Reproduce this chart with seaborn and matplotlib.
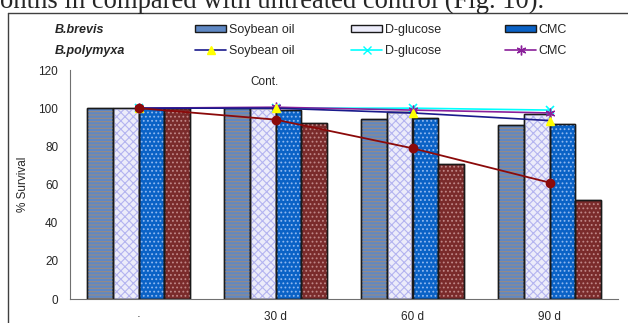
import numpy as np
import pandas as pd
import matplotlib
matplotlib.use("Agg")
import matplotlib.pyplot as plt
import seaborn as sns
from matplotlib.patches import Patch
from matplotlib.lines import Line2D

sns.set_style("white")
plt.rcParams['font.family'] = ['Liberation Sans', 'DejaVu Sans']
plt.rcParams['hatch.linewidth'] = 0.8

# ---- data ----
days = ["·", "30 d", "60 d", "90 d"]
series = ["Soybean oil", "D-glucose", "CMC", "Cont."]
brevis_soy = [100, 100, 94.5, 91]
brevis_glu = [100, 100, 98, 97]
brevis_cmc = [100, 99, 95, 91.5]
brevis_cont = [100, 92, 71, 52]

polymyxa_soy = [100, 100, 97.5, 93.5]
polymyxa_glu = [100, 100, 100, 99]
polymyxa_cmc = [100, 100.5, 99, 97.5]
polymyxa_cont = [100, 94, 79, 61]

bar_colors = ["#5F88C4", "#ECECFA", "#0A62C6", "#7A2B2B"]
hatch_colors = ["#9A8A80", "#B4B4F0", "#8FB8F0", "#C08888"]
hatches = ["-----", "xxxx", "....", "...."]

df = pd.DataFrame({
    "day": days * 4,
    "series": np.repeat(series, len(days)),
    "value": brevis_soy + brevis_glu + brevis_cmc + brevis_cont,
})

fig = plt.figure(figsize=(6.28, 3.23), dpi=100)
ax = fig.add_axes([70 / 628, 1 - 299 / 323, 548 / 628, 229 / 323])

pal = dict(zip(series, bar_colors))
sns.barplot(data=df, x="day", y="value", hue="series", order=days,
            hue_order=series, palette=pal, width=0.745, dodge=True,
            edgecolor="#1a1a1a", linewidth=1.0, saturation=1, ax=ax,
            legend=False, errorbar=None)
base_patches = list(ax.patches)
sns.barplot(data=df, x="day", y="value", hue="series", order=days,
            hue_order=series, palette=pal, width=0.745, dodge=True,
            linewidth=0, saturation=1, ax=ax, legend=False, errorbar=None)
over = [p for p in ax.patches if p not in base_patches]
for i, p in enumerate(over):
    s = i // len(days)
    p.set_facecolor("none")
    p.set_edgecolor(hatch_colors[s])
    p.set_linewidth(0)
    p.set_hatch(hatches[s])
for p in base_patches:
    p.set_zorder(1)
for p in over:
    p.set_zorder(2)
for p in base_patches:
    q = plt.Rectangle(p.get_xy(), p.get_width(), p.get_height(), fill=False,
                      edgecolor="#1a1a1a", linewidth=1.0, zorder=3)
    ax.add_patch(q)

x = np.arange(len(days))
ax.plot(x, polymyxa_glu, color="#00FFFF", lw=1.2, marker="x", ms=6,
        mew=1.2, zorder=5)
ax.plot(x, polymyxa_cmc, color="#8A1F9A", lw=1.2, marker=(6, 2, 0), ms=7,
        mew=1.0, zorder=6)
ax.plot(x, polymyxa_soy, color="#1A1A8C", lw=1.2, marker="^", ms=6,
        mfc="#FFFF00", mec="#FFFF00", zorder=6)
ax.plot(x, polymyxa_cont, color="#8B0A0A", lw=1.3, marker="o", ms=6,
        mfc="#8B0A0A", mec="#8B0A0A", zorder=7)

ax.set_xlim(-0.5, 3.5)
ax.set_ylim(0, 120)
ax.set_yticks(range(0, 121, 20))
ax.set_xticks(x)
ax.set_xticklabels(days)
ax.set_xticks(np.arange(-0.5, 3.6, 1), minor=True)
ax.tick_params(axis="x", which="major", length=0, pad=9, labelsize=8.5)
ax.tick_params(axis="x", which="minor", length=9, direction="inout",
               color="#707070", width=0.8)
ax.tick_params(axis="y", length=9, direction="inout", color="#707070",
               width=0.8, labelsize=8.5, pad=4)
ax.set_xlabel("")
ax.set_ylabel("% Survival", fontsize=8.5, labelpad=0)
ax.yaxis.set_label_coords(-41 / 548, 0.5)
for s in ["top", "right"]:
    ax.spines[s].set_visible(False)
for s in ["left", "bottom"]:
    ax.spines[s].set_color("#707070")
    ax.spines[s].set_linewidth(0.8)
ax.set_facecolor("none")

ax.text(0.92, 113.5, "Cont.", ha="center", va="center", fontsize=8.5)

# legend: three columns, each with a bar entry above a line entry
line_specs = [
    dict(color="#1A1A8C", marker="^", mfc="#FFFF00", mec="#FFFF00", ms=6),
    dict(color="#00FFFF", marker="x", ms=6),
    dict(color="#8A1F9A", marker=(6, 2, 0), ms=7),
]
col_x = [195, 351, 505]
for i in range(3):
    hs = [Patch(facecolor=bar_colors[i], edgecolor="#1a1a1a", linewidth=1.0),
          Line2D([], [], lw=1.2, **line_specs[i])]
    leg = fig.legend(hs, [series[i], series[i]], loc="center left",
                     bbox_to_anchor=(col_x[i] / 628, 1 - 40.5 / 323),
                     frameon=False, fontsize=9, handlelength=2.5,
                     handleheight=0.45, handletextpad=0.2, labelspacing=0.75,
                     borderpad=0, borderaxespad=0)

fig.text(55 / 628, 1 - 30 / 323, "B.brevis", fontsize=9,
         fontweight="bold", fontstyle="italic", va="center")
fig.text(55 / 628, 1 - 51 / 323, "B.polymyxa", fontsize=9,
         fontweight="bold", fontstyle="italic", va="center")

# frame lines
fig.add_artist(Line2D([8 / 628, 1], [1 - 13 / 323] * 2, color="#404040",
                      lw=1.0, transform=fig.transFigure))
fig.add_artist(Line2D([8 / 628] * 2, [0, 1 - 13 / 323], color="#404040",
                      lw=1.0, transform=fig.transFigure))

# cropped document text above chart
fig.text(0, 1 - 8 / 323, "onths in compared with untreated control (Fig. 10).",
         fontsize=19.2, family="Liberation Serif", va="baseline", ha="left")

fig.savefig("out.png", dpi=100)
